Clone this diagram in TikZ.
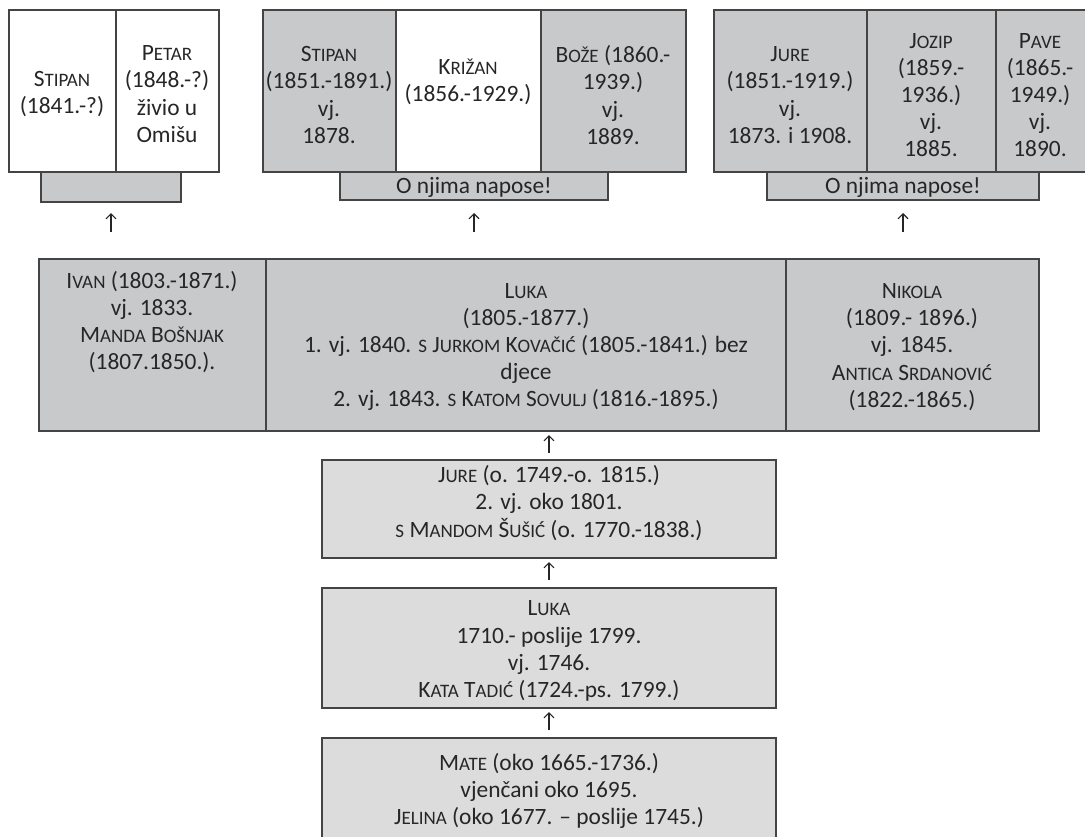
\documentclass[tikz,border=0pt]{standalone}
\usepackage{fontspec}
\setmainfont{Carlito}
\usetikzlibrary{fit,arrows.meta}
\definecolor{gA}{HTML}{C8C9CB}
\definecolor{gB}{HTML}{DCDCDC}
\definecolor{ln}{HTML}{444444}
\definecolor{tx}{HTML}{262626}
\newcommand\nm[2]{#1{\fontsize{9.5}{10}\selectfont #2}}
\begin{document}
\begin{tikzpicture}[x=0.5pt,y=-0.5pt,
  box/.style={draw=ln,line width=0.8pt,inner sep=0pt,outer sep=0pt},
  dk/.style={box,fill=gA},
  lt/.style={box,fill=gB},
  wh/.style={box,fill=white},
  txt/.style={align=center,text=tx,inner sep=0pt,font=\fontsize{11.7}{13.6}\selectfont},
  arr/.style={draw=tx,line width=0.55pt,-{Straight Barb[length=2.5pt,width=5pt]}}]
\useasboundingbox (0,0) rectangle (1085,836);
% top left group
\node[wh,fit={(9,10)(116,172)}] (c11) {};
\node[wh,fit={(116,10)(219,172)}] (c12) {};
\node[dk,fit={(41,172)(181,202)}] (bar1) {};
% top middle group
\node[dk,fit={(263,10)(396,172)}] (c21) {};
\node[wh,fit={(396,10)(541,172)}] (c22) {};
\node[dk,fit={(541,10)(686,172)}] (c23) {};
\node[dk,fit={(340,172)(608,200)}] (bar2) {};
% top right group
\node[dk,fit={(714,10)(867,172)}] (c31) {};
\node[dk,fit={(867,10)(996,172)}] (c32) {};
\node[dk,fit={(996,10)(1088,172)}] (c33) {};
\node[dk,fit={(767,172)(1039,200)}] (bar3) {};
% middle row
\node[dk,fit={(39,259)(266,431)}] (ivan) {};
\node[dk,fit={(266,259)(786,431)}] (lukam) {};
\node[dk,fit={(786,259)(1039,431)}] (nikola) {};
% lower boxes
\node[lt,fit={(322,460)(776,558)}] (jure2) {};
\node[lt,fit={(322,588)(776,708)}] (luka2) {};
\node[lt,fit={(322,738)(776,850)}] (mate) {};
% texts
\node[txt] (t11) at (62,94) {\nm{S}{TIPAN}\\(1841.-?)};
\node[txt] (t12) at (167,94) {\nm{P}{ETAR}\\(1848.-?)\\živio u\\Omišu};
\node[txt] (t21) at (329,95) {\nm{S}{TIPAN}\\(1851.-1891.)\\vj.\\1878.};
\node[txt] (t22) at (468,82) {\nm{K}{RIŽAN}\\(1856.-1929.)};
\node[txt] (t23) at (613,95) {\nm{B}{OŽE} (1860.-\\1939.)\\vj.\\1889.};
\node[txt] (tb2) at (474,187) {O njima napose!};
\node[txt] (t31) at (790,95) {\nm{J}{URE}\\(1851.-1919.)\\vj.\\1873. i 1908.};
\node[txt] (t32) at (931,95) {\nm{J}{OZIP}\\(1859.-\\1936.)\\vj.\\1885.};
\node[txt] (t33) at (1040,95) {\nm{P}{AVE}\\(1865.-\\1949.)\\vj.\\1890.};
\node[txt] (tb3) at (903,187) {O njima napose!};
\node[txt] (tivan) at (152,322) {\nm{I}{VAN} (1803.-1871.)\\vj. 1833.\\\nm{M}{ANDA} \nm{B}{OŠNJAK}\\(1807.1850.).};
\node[txt] (tlukam) at (526,347) {\nm{L}{UKA}\\(1805.-1877.)\\1. vj. 1840. \nm{}{S} \nm{J}{URKOM} \nm{K}{OVAČIĆ} (1805.-1841.) bez\\djece\\2. vj. 1843. \nm{}{S} \nm{K}{ATOM} \nm{S}{OVULJ} (1816.-1895.)};
\node[txt] (tnikola) at (912,347) {\nm{N}{IKOLA}\\(1809.- 1896.)\\vj. 1845.\\\nm{A}{NTICA} \nm{S}{RDANOVIĆ}\\(1822.-1865.)};
\node[txt] (tjure2) at (549,503) {\nm{J}{URE} (o. 1749.-o. 1815.)\\2. vj. oko 1801.\\\nm{}{S} \nm{M}{ANDOM} \nm{Š}{UŠIĆ} (o. 1770.-1838.)};
\node[txt] (tluka2) at (549,651) {\nm{L}{UKA}\\1710.- poslije 1799.\\vj. 1746.\\\nm{K}{ATA} \nm{T}{ADIĆ} (1724.-ps. 1799.)};
\node[txt] (tmate) at (549,791) {\nm{M}{ATE} (oko 1665.-1736.)\\vjenčani oko 1695.\\\nm{J}{ELINA} (oko 1677. – poslije 1745.)};
% arrows
\draw[arr,shorten <=13.5pt,shorten >=5.5pt] (bar1.south |- ivan.north) -- (bar1.south);
\draw[arr,shorten <=13.5pt,shorten >=6.5pt] (bar2.south |- lukam.north) -- (bar2.south);
\draw[arr,shorten <=13.5pt,shorten >=6.5pt] (bar3.south |- nikola.north) -- (bar3.south);
\draw[arr,shorten <=3.5pt,shorten >=2pt] (jure2.north) -- (jure2.north |- lukam.south);
\draw[arr,shorten <=4pt,shorten >=2pt] (luka2.north) -- (jure2.south);
\draw[arr,shorten <=4pt,shorten >=2pt] (mate.north) -- (luka2.south);
\end{tikzpicture}
\end{document}
